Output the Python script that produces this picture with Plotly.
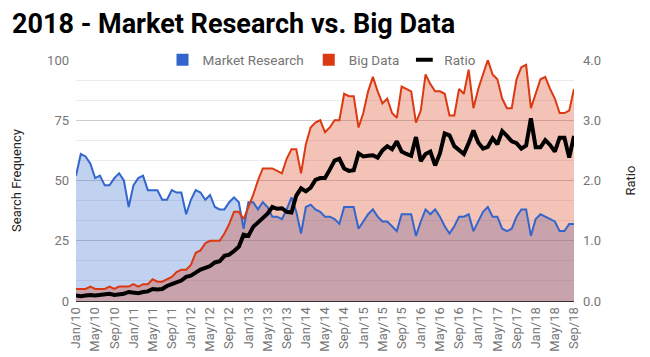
import plotly.graph_objects as go

month_names = ["Jan", "Feb", "Mar", "Apr", "May", "Jun", "Jul", "Aug", "Sep", "Oct", "Nov", "Dec"]
months = [f"{m}/{y:02d}" for y in range(10, 19) for m in month_names][:105]
tick_labels = months[::4]

market_research = [
    52, 61, 60, 57, 51, 52, 48, 48, 51, 53, 50, 39,
    48, 51, 52, 46, 46, 46, 42, 42, 46, 45, 45, 36,
    42, 46, 45, 42, 44, 39, 38, 38, 41, 43, 41, 30,
    41, 41, 38, 41, 39, 35, 35, 34, 38, 43, 37, 28,
    39, 40, 38, 37, 35, 35, 34, 32, 39, 39, 39, 30,
    33, 36, 38, 35, 33, 33, 31, 29, 36, 36, 36, 27,
    33, 38, 36, 38, 35, 31, 28, 31, 35, 35, 36, 29,
    33, 37, 39, 35, 35, 30, 29, 30, 35, 38, 38, 27,
    34, 36, 35, 34, 33, 29, 29, 32, 32,
]

big_data = [
    5, 5, 5, 6, 5, 5, 5, 6, 5, 6, 6, 6,
    7, 6, 7, 7, 9, 8, 8, 9, 10, 12, 13, 13,
    15, 20, 21, 24, 25, 25, 25, 28, 32, 37, 37, 34,
    39, 44, 50, 55, 55, 55, 54, 53, 59, 63, 63, 53,
    65, 72, 74, 75, 70, 72, 75, 75, 86, 85, 85, 72,
    78, 87, 93, 87, 82, 84, 78, 76, 89, 88, 87, 74,
    79, 94, 90, 87, 87, 86, 77, 77, 88, 86, 96, 80,
    88, 94, 100, 94, 92, 84, 80, 80, 92, 97, 98, 80,
    86, 92, 93, 88, 84, 78, 78, 79, 88,
]

ratio = [
    0.09, 0.08, 0.09, 0.10, 0.09, 0.10, 0.10, 0.12, 0.10, 0.11, 0.12, 0.15,
    0.14, 0.13, 0.15, 0.16, 0.20, 0.19, 0.20, 0.25, 0.28, 0.31, 0.34, 0.40,
    0.42, 0.47, 0.52, 0.55, 0.58, 0.64, 0.66, 0.75, 0.77, 0.83, 0.90, 1.10,
    1.08, 1.23, 1.30, 1.36, 1.45, 1.56, 1.53, 1.54, 1.48, 1.47, 1.75, 1.87,
    1.82, 1.88, 2.01, 2.04, 2.04, 2.18, 2.33, 2.36, 2.20, 2.16, 2.17, 2.45,
    2.40, 2.41, 2.42, 2.38, 2.50, 2.57, 2.52, 2.65, 2.48, 2.44, 2.41, 2.72,
    2.32, 2.44, 2.48, 2.25, 2.45, 2.78, 2.75, 2.57, 2.51, 2.44, 2.62, 2.83,
    2.63, 2.53, 2.56, 2.70, 2.60, 2.82, 2.74, 2.65, 2.62, 2.53, 2.58, 3.03,
    2.55, 2.55, 2.67, 2.59, 2.48, 2.71, 2.71, 2.38, 2.74,
]

BLUE = "#3366CC"
RED = "#DC3912"
GRAY = "#757575"
FONT = "Roboto"

# The page body has an 8px margin, so the figure is sized to fit the window from there.
W, H = 642, 349

fig = go.Figure()
# area fills
fig.add_trace(go.Scatter(x=months, y=market_research, mode="none", fill="tozeroy",
                         fillcolor="rgba(51,102,204,0.3)", showlegend=False, hoverinfo="skip"))
fig.add_trace(go.Scatter(x=months, y=big_data, mode="none", fill="tozeroy",
                         fillcolor="rgba(220,57,18,0.3)", showlegend=False, hoverinfo="skip"))
# lines
fig.add_trace(go.Scatter(x=months, y=market_research, mode="lines",
                         line=dict(color=BLUE, width=2), showlegend=False))
fig.add_trace(go.Scatter(x=months, y=big_data, mode="lines",
                         line=dict(color=RED, width=2), showlegend=False))
fig.add_trace(go.Scatter(x=months, y=ratio, yaxis="y2", mode="lines",
                         line=dict(color="black", width=4), showlegend=False))
# legend entries
fig.add_trace(go.Scatter(x=[None], y=[None], mode="markers", name="Market Research",
                         marker=dict(symbol="square", size=12, color=BLUE)))
fig.add_trace(go.Scatter(x=[None], y=[None], mode="markers", name="Big Data",
                         marker=dict(symbol="square", size=12, color=RED)))
fig.add_trace(go.Scatter(x=[None], y=[None], mode="markers", name="Ratio",
                         marker=dict(symbol="line-ew", size=12, color="black",
                                     line=dict(color="black", width=4))))

fig.update_layout(
    width=W, height=H,
    margin=dict(l=68, r=76, t=52, b=56, autoexpand=False),
    paper_bgcolor="white", plot_bgcolor="white",
    font=dict(family=FONT, size=13, color=GRAY),
    title=dict(text="2018 - Market Research vs. Big Data", x=4 / W, xref="container",
               xanchor="left", y=1 - 15.5 / H, yref="container", yanchor="middle",
               font=dict(family=FONT, size=27, color="black", weight="bold")),
    legend=dict(orientation="h", x=0.5 - 3 / 498, xanchor="center", y=1.0, yanchor="middle",
                bgcolor="rgba(0,0,0,0)", font=dict(family=FONT, size=13.5, color=GRAY),
                traceorder="normal"),
    xaxis=dict(type="category", categoryorder="array", categoryarray=months,
               range=[0, 104], tickmode="array", tickvals=tick_labels, ticktext=tick_labels,
               tickangle=-90, tickfont=dict(size=13, color=GRAY), showgrid=False,
               showline=True, linecolor="#333333", linewidth=1, layer="below traces",
               zeroline=False, ticks="", automargin=False),
    yaxis=dict(range=[0, 100], tickmode="array", tickvals=[0, 25, 50, 75, 100],
               gridcolor="#cccccc", gridwidth=1, zeroline=False, automargin=False,
               minor=dict(dtick=25 / 3, tick0=0, showgrid=True, gridcolor="#ebebeb"),
               tickfont=dict(size=13, color=GRAY), ticklabelstandoff=6,
               title=dict(text="Search Frequency", font=dict(size=13, color="#222222"),
                          standoff=22)),
    yaxis2=dict(overlaying="y", side="right", range=[0, 4], tickmode="array",
                tickvals=[0, 1, 2, 3, 4], tickformat=".1f", showgrid=False, zeroline=False,
                automargin=False,
                tickfont=dict(size=13, color=GRAY), ticklabelstandoff=8,
                title=dict(text="Ratio", font=dict(size=13, color="#222222"), standoff=25)),
)

fig.write_html("out.html")
